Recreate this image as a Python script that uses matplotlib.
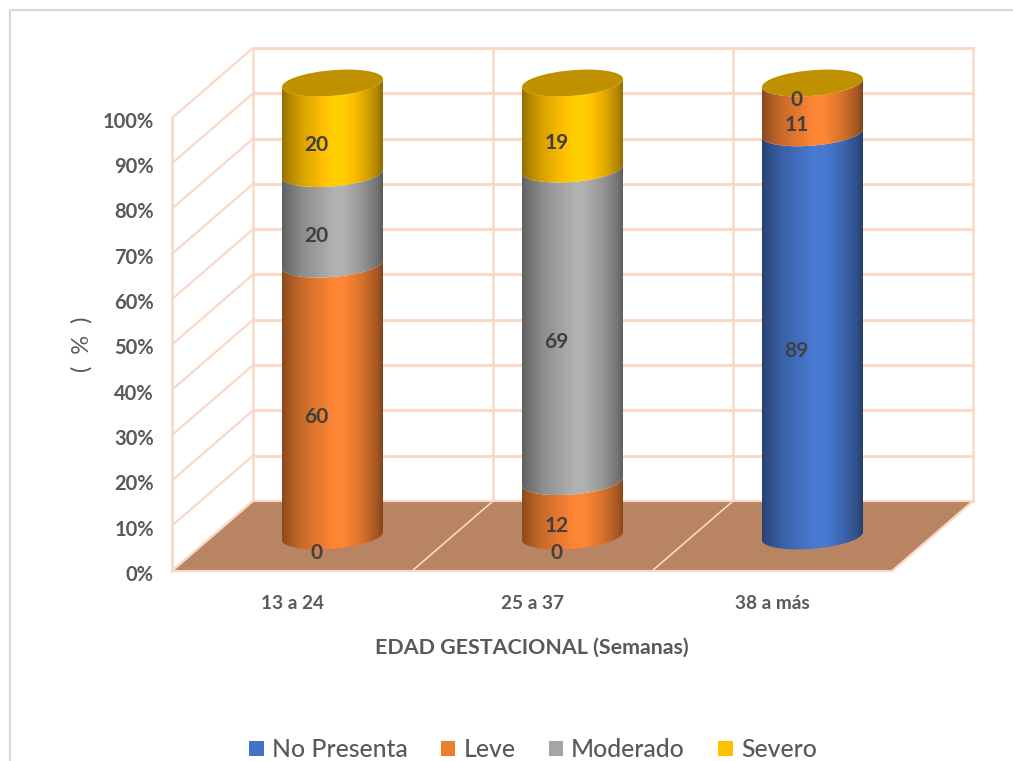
import numpy as np
import matplotlib
matplotlib.use("Agg")
import matplotlib.pyplot as plt
from matplotlib.patches import PathPatch, Polygon, Patch
from matplotlib.path import Path
from matplotlib.lines import Line2D
from matplotlib.transforms import ScaledTranslation

categories = ["13 a 24", "25 a 37", "38 a más"]
series_names = ["No Presenta", "Leve", "Moderado", "Severo"]
no_presenta = [0, 0, 89]
leve = [60, 12, 11]
moderado = [20, 69, 0]
severo = [20, 19, 0]
series_values = [no_presenta, leve, moderado, severo]
series_colors = ["#4472C4", "#ED7D31", "#A5A5A5", "#FFC000"]
percent_ticks = list(range(0, 101, 10))

GRID = "#F9D9C6"
FLOOR = "#B88462"
CAP = "#BF9000"
TEXT = "#595959"
LABEL = "#404040"

plt.rcParams["font.family"] = ["Lato", "DejaVu Sans"]
W, H = 1013, 761
fig = plt.figure(figsize=(W / 100, H / 100), dpi=100, facecolor="white")

# The axes rectangle is the front plane of the 3D box
left, right, top, bottom = 172, 892, 118, 571
ax = fig.add_axes([left / W, 1 - bottom / H, (right - left) / W, (bottom - top) / H])
ax.set_xlim(-0.5, 2.5)
ax.set_ylim(0, 100)
for s in ax.spines.values():
    s.set_visible(False)
ax.patch.set_alpha(0)

# Oblique projection: one full unit of depth in data units
DX = 81 / 240
DY = 70 / ((bottom - top) / 100)


def project(x, y, depth=0.0):
    return x + DX * depth, y + DY * depth


def seg(p, q, **kw):
    xy = np.array([p, q])
    ax.add_line(Line2D(xy[:, 0], xy[:, 1], clip_on=False, **kw))


# Walls and floor
xmin, xmax = -0.5, 2.5
floor = [project(xmin, 0), project(xmax, 0), project(xmax, 0, 1), project(xmin, 0, 1)]
ax.add_patch(Polygon(floor, closed=True, facecolor=FLOOR, edgecolor=GRID, lw=1.5,
                     clip_on=False, zorder=1))
for p in percent_ticks:
    seg(project(xmin, p, 1), project(xmax, p, 1), color=GRID, lw=2.1, zorder=0.5)
    seg(project(xmin, p, 0), project(xmin, p, 1), color=GRID, lw=1.6, zorder=0.5)
seg(project(xmin, 0), project(xmin, 100), color=GRID, lw=2.0, zorder=0.5)
for x in np.arange(xmin, xmax + 0.5):
    seg(project(x, 0, 1), project(x, 100, 1), color=GRID, lw=1.8, zorder=0.5)
    seg(project(x, 0, 0), project(x, 0, 1), color=GRID, lw=1.2, zorder=1.5)

# Cylinder geometry in data units
RX = 50.5 / 240
RY = 12.8 / ((bottom - top) / 100)
TILT = 4.0 / ((bottom - top) / 100)
MID = 0.5
theta = np.linspace(0, np.pi, 60)
shade_pos = [0, 0.06, 0.2, 0.52, 0.62, 0.8, 0.94, 1]
shade_val = [0.58, 0.68, 0.85, 1.08, 1.07, 0.9, 0.7, 0.55]


def front_arc(cx, cy):
    """Near half of the rim, running from the right end to the left end."""
    return cx + RX * np.cos(theta), cy - RY * np.sin(theta) + TILT * np.cos(theta)


def shaded_body(cx, y0, y1, color):
    xb, yb = front_arc(cx, y0)
    xt, yt = front_arc(cx, y1)
    verts = np.vstack([np.column_stack([xb, yb]), np.column_stack([xt[::-1], yt[::-1]]),
                       [[xb[0], yb[0]]]])
    clip = PathPatch(Path(verts, closed=True), transform=ax.transData)
    t = np.linspace(0, 1, 200)
    base = np.array(matplotlib.colors.to_rgb(color))
    img = np.clip(np.interp(t, shade_pos, shade_val)[None, :, None] * base, 0, 1)
    ylo, yhi = y0 - RY - TILT - 1, y1 + RY + TILT + 1
    im = ax.imshow(img, extent=[cx - RX, cx + RX, ylo, yhi], aspect="auto",
                   origin="lower", zorder=2, interpolation="bilinear")
    im.set_clip_path(clip)
    im.set_clip_box(fig.bbox)


for i in range(len(categories)):
    cx, _ = project(i, 0, MID)
    running = 0.0
    seen = set()
    for vals, col in zip(series_values, series_colors):
        v = vals[i]
        y0 = project(i, running, MID)[1]
        y1 = project(i, running + v, MID)[1]
        if v > 0:
            shaded_body(cx, y0, y1, col)
        centre = running + v / 2
        if centre not in seen:
            ax.annotate(f"{v}", project(i, centre, 0.3), xytext=(0, -2.2),
                        textcoords="offset points", ha="center", va="center",
                        fontsize=15, fontweight="bold", color=LABEL, zorder=4,
                        annotation_clip=False)
            seen.add(centre)
        running += v
    # Top cap
    ytop = project(i, running, MID)[1]
    t = np.linspace(0, 2 * np.pi, 120)
    cap = np.column_stack([cx + RX * np.cos(t), ytop - RY * np.sin(t) + TILT * np.cos(t)])
    ax.add_patch(Polygon(cap, closed=True, facecolor=CAP, edgecolor="none",
                         clip_on=False, zorder=3))

ax.set_xlim(-0.5, 2.5)
ax.set_ylim(0, 100)

ax.set_xticks(range(len(categories)), categories)
ax.set_yticks(percent_ticks, [f"{p}%" for p in percent_ticks])
ax.tick_params(axis="both", length=0, labelcolor=TEXT)
ax.tick_params(axis="y", pad=13, labelsize=14.5)
ax.tick_params(axis="x", pad=17, labelsize=13.7)
for lab in ax.get_xticklabels() + ax.get_yticklabels():
    lab.set_fontweight("bold")
# Percent labels sit slightly below their gridline
nudge = ScaledTranslation(0, -1.3 / 72, fig.dpi_scale_trans)
for lab in ax.get_yticklabels():
    lab.set_transform(lab.get_transform() + nudge)
ax.set_xlabel("EDAD GESTACIONAL (Semanas)", fontsize=15.4, fontweight="bold",
              color=TEXT, labelpad=18.5)
ax.set_ylabel("(  %  )", fontsize=17, color=TEXT, labelpad=7.5)

# Chart-area border, open at the right and the bottom of the frame
fig.add_artist(Line2D([10 / W, 10 / W, 1], [0, 1 - 10 / H, 1 - 10 / H],
                      color="#DADADA", lw=1.6, transform=fig.transFigure))

handles = [Patch(facecolor=c, edgecolor="none") for c in series_colors]
fig.legend(handles, series_names, ncols=4, frameon=False, loc="center",
           bbox_to_anchor=(533 / W, 1 - 749.5 / H), labelcolor=TEXT,
           prop={"size": 17.8, "weight": "medium"},
           handlelength=0.58, handleheight=0.58, handletextpad=0.33, columnspacing=1.35,
           borderpad=0, borderaxespad=0)

fig.savefig("out.png", dpi=100)
